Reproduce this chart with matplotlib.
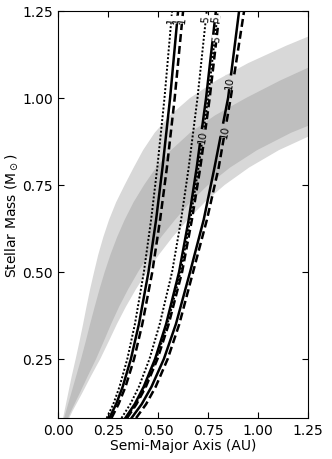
import numpy as np
import matplotlib
matplotlib.use("Agg")
import matplotlib.pyplot as plt

# Stellar mass grid (Msun) for habitable-zone boundaries
hz_mass = [0.08, 0.10, 0.15, 0.20, 0.25, 0.30, 0.35, 0.40, 0.45, 0.50, 0.55, 0.60, 0.65,
           0.70, 0.75, 0.80, 0.85, 0.90, 0.95, 1.00, 1.05, 1.10, 1.15, 1.20, 1.25, 1.30]
hz_opt_inner = [0.025, 0.032, 0.050, 0.068, 0.088, 0.107, 0.125, 0.142, 0.160, 0.180, 0.201, 0.226, 0.255,
                0.290, 0.333, 0.378, 0.425, 0.483, 0.560, 0.660, 0.790, 0.950, 1.140, 1.350, 1.570, 1.800]
hz_con_inner = [0.030, 0.040, 0.065, 0.090, 0.115, 0.138, 0.160, 0.183, 0.207, 0.233, 0.262, 0.295, 0.333,
                0.377, 0.430, 0.490, 0.565, 0.660, 0.785, 0.940, 1.110, 1.300, 1.520, 1.760, 2.000, 2.300]
hz_con_outer = [0.050, 0.065, 0.107, 0.148, 0.190, 0.228, 0.265, 0.305, 0.350, 0.400, 0.455, 0.515, 0.585,
                0.660, 0.750, 0.860, 0.995, 1.165, 1.380, 1.650, 1.950, 2.290, 2.670, 3.100, 3.500, 4.000]
hz_opt_outer = [0.056, 0.072, 0.119, 0.164, 0.211, 0.253, 0.294, 0.339, 0.389, 0.444, 0.505, 0.572, 0.649,
                0.733, 0.833, 0.955, 1.104, 1.293, 1.530, 1.830, 2.160, 2.540, 2.960, 3.440, 3.900, 4.400]

# Tidal-locking curves: semi-major axis (AU) at each mass
tl_mass = [0.08, 0.12, 0.17, 0.25, 0.35, 0.50, 0.65, 0.80, 1.00, 1.25]
tl_curves = {
    "dotted_1":  [0.243, 0.276, 0.307, 0.346, 0.384, 0.429, 0.465, 0.496, 0.532, 0.570],
    "solid_1":   [0.256, 0.290, 0.323, 0.364, 0.404, 0.452, 0.490, 0.522, 0.560, 0.600],
    "dashed_1":  [0.267, 0.302, 0.337, 0.380, 0.421, 0.471, 0.510, 0.544, 0.583, 0.625],
    "dotted_5":  [0.317, 0.361, 0.404, 0.457, 0.508, 0.570, 0.615, 0.653, 0.697, 0.743],
    "solid_5":   [0.336, 0.383, 0.428, 0.485, 0.540, 0.605, 0.653, 0.693, 0.740, 0.789],
    "dashed_5":  [0.345, 0.392, 0.439, 0.497, 0.553, 0.620, 0.669, 0.711, 0.758, 0.808],
    "dotted_10": [0.341, 0.388, 0.434, 0.491, 0.547, 0.613, 0.661, 0.702, 0.750, 0.799],
    "solid_10":  [0.367, 0.418, 0.467, 0.529, 0.589, 0.660, 0.728, 0.782, 0.850, 0.905],
    "dashed_10": [0.390, 0.440, 0.488, 0.548, 0.606, 0.675, 0.744, 0.803, 0.863, 0.930],
}
tl_labels = {"dotted_1": "1", "solid_1": "1", "dashed_1": "1",
             "dotted_5": "5", "solid_5": "5", "dashed_5": "5",
             "dotted_10": "10", "solid_10": "10", "dashed_10": "10"}
# mass at which each inline label sits
tl_label_mass = {"dotted_1": 1.225, "solid_1": 1.225, "dashed_1": 1.225,
                 "dotted_5": 1.228, "solid_5": 1.228, "dashed_5": 1.17,
                 "dotted_10": 0.89, "solid_10": 1.045, "dashed_10": 0.905}

LIGHT = "#d8d8d8"
DARK = "#bebebe"
label_bg = {"dotted_1": "white", "solid_1": "white", "dashed_1": "white",
            "dotted_5": "white", "solid_5": "white", "dashed_5": "white",
            "dotted_10": DARK, "solid_10": LIGHT, "dashed_10": DARK}

styles = {"dotted": dict(ls=(0, (1, 1)), lw=1.4),
          "solid": dict(ls="-", lw=1.8),
          "dashed": dict(ls=(0, (3.2, 1.6)), lw=1.8)}

fig = plt.figure(figsize=(3.32, 4.60), dpi=100)
ax = fig.add_axes([0.175, 0.089, 0.753, 0.885])

ax.fill_betweenx(hz_mass, hz_opt_inner, hz_opt_outer, color=LIGHT, lw=0, zorder=1)
ax.fill_betweenx(hz_mass, hz_con_inner, hz_con_outer, color=DARK, lw=0, zorder=2)

for key, vals in tl_curves.items():
    st = styles[key.split("_")[0]]
    ax.plot(vals, tl_mass, color="black", zorder=3, **st)

ax.set_xlim(0, 1.25)
ax.set_ylim(0.08, 1.25)
ax.set_xticks([0.0, 0.25, 0.5, 0.75, 1.0, 1.25])
ax.set_yticks([0.25, 0.5, 0.75, 1.0, 1.25])
ax.set_xticklabels(["0.00", "0.25", "0.50", "0.75", "1.00", "1.25"])
ax.set_yticklabels(["0.25", "0.50", "0.75", "1.00", "1.25"])
ax.tick_params(direction="in", top=True, right=True, labelsize=10, length=4, width=0.8)
ax.set_xlabel("Semi-Major Axis (AU)", fontsize=10, labelpad=1)
ax.set_ylabel(r"Stellar Mass (M$_\odot$)", fontsize=10, labelpad=2)
for sp in ax.spines.values():
    sp.set_linewidth(0.8)

fig.canvas.draw()
for key, vals in tl_curves.items():
    m0 = tl_label_mass[key]
    a0 = np.interp(m0, tl_mass, vals)
    a1 = np.interp(m0 - 0.03, tl_mass, vals)
    a2 = np.interp(m0 + 0.03, tl_mass, vals)
    p1 = ax.transData.transform((a1, m0 - 0.03))
    p2 = ax.transData.transform((a2, m0 + 0.03))
    ang = np.degrees(np.arctan2(p2[1] - p1[1], p2[0] - p1[0]))
    if ang > 90:
        ang -= 180
    ax.text(a0, m0, tl_labels[key], rotation=ang, fontsize=7.5, ha="center", va="center",
            rotation_mode="anchor", zorder=4,
            bbox=dict(fc=label_bg[key], ec="none", pad=0.2))

fig.savefig("out.png", dpi=100)
